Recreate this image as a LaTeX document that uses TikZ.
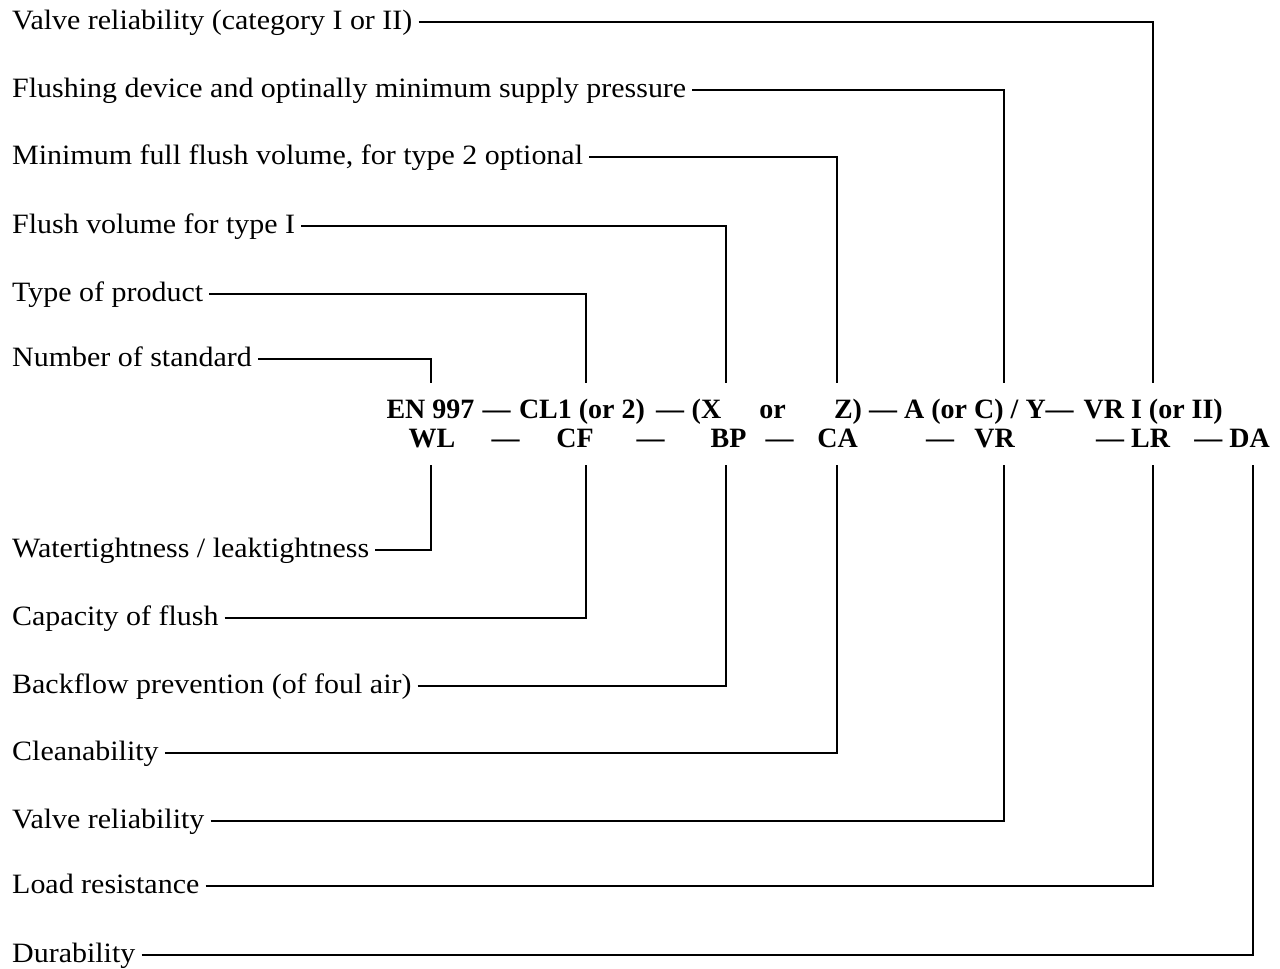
\documentclass[tikz,border=0pt]{standalone}
\usepackage{fontspec}
\setmainfont{Liberation Serif}
\newfontfamily\lblfam[FakeStretch=1.07]{Liberation Serif}
\newfontfamily\codefam{Liberation Serif}
\newcommand{\lblfont}{\lblfam\fontsize{28}{30}\selectfont}
\newcommand{\codefont}{\codefam\bfseries\fontsize{28}{30}\selectfont}
\begin{document}
\begin{tikzpicture}[x=1pt,y=-1pt,
  lbl/.style={anchor=base west, inner xsep=6pt, inner ysep=0pt, text height=20pt, text depth=6pt, font=\lblfont},
  code/.style={anchor=base, inner sep=0pt, font=\codefont},
  conn/.style={draw=black, line width=1.6pt}]
\useasboundingbox (0,0) rectangle (1280,969);

% top labels
\node[lbl] (a1) at (6,29)  {Valve reliability (category I or II)};
\node[lbl] (a2) at (6,97)  {Flushing device and optinally minimum supply pressure};
\node[lbl] (a3) at (6,164) {Minimum full flush volume, for type 2 optional};
\node[lbl] (a4) at (6,233) {Flush volume for type I};
\node[lbl] (a5) at (6,301) {Type of product};
\node[lbl] (a6) at (6,366) {Number of standard};

% bottom labels
\node[lbl] (b1) at (6,557) {Watertightness / leaktightness};
\node[lbl] (b2) at (6,625) {Capacity of flush};
\node[lbl] (b3) at (6,693) {Backflow prevention (of foul air)};
\node[lbl] (b4) at (6,760) {Cleanability};
\node[lbl] (b5) at (6,828) {Valve reliability};
\node[lbl] (b6) at (6,893) {Load resistance};
\node[lbl] (b7) at (6,962) {Durability};

% code row 1
\node[code] (en)  at (430.5,418) {EN 997};
\node[code] (d1)  at (496.5,418) {—};
\node[code] (cl)  at (582,418)   {CL1 (or 2)};
\node[code] (d2)  at (670,418)   {—};
\node[code] (x)   at (706.5,418) {(X};
\node[code] (or)  at (772.5,418) {or};
\node[code] (z)   at (848,418)   {Z)};
\node[code, anchor=base west] (ay) at (869,418) {— A (or C) / Y—};
\node[code, anchor=base east] (vri) at (1223,418) {VR I (or II)};

% code row 2
\node[code] (wl)  at (432,447)   {WL};
\node[code] (e1)  at (505.5,447) {—};
\node[code] (cf)  at (575,447)   {CF};
\node[code] (e2)  at (650.5,447) {—};
\node[code] (bp)  at (728.5,447) {BP};
\node[code] (e3)  at (779.5,447) {—};
\node[code] (ca)  at (837.5,447) {CA};
\node[code] (e4)  at (940,447)   {—};
\node[code] (vr)  at (994.5,447) {VR};
\node[code, anchor=base west] (lr)  at (1096,447) {— LR};
\node[code, anchor=base east] (da)  at (1270,447)  {— DA};

% connector ends
\coordinate (t1) at (1153,383);
\coordinate (t2) at (1004,383);
\coordinate (t3) at (837,383);
\coordinate (t4) at (726,383);
\coordinate (t5) at (586,383);
\coordinate (t6) at (431,383);
\coordinate (u1) at (431,465);
\coordinate (u2) at (586,465);
\coordinate (u3) at (726,465);
\coordinate (u4) at (837,465);
\coordinate (u5) at (1004,465);
\coordinate (u6) at (1153,465);
\coordinate (u7) at (1253,465);

\draw[conn] (a1.east) -| (t1);
\draw[conn] (a2.east) -| (t2);
\draw[conn] (a3.east) -| (t3);
\draw[conn] (a4.east) -| (t4);
\draw[conn] (a5.east) -| (t5);
\draw[conn] (a6.east) -| (t6);
\draw[conn] (b1.east) -| (u1);
\draw[conn] (b2.east) -| (u2);
\draw[conn] (b3.east) -| (u3);
\draw[conn] (b4.east) -| (u4);
\draw[conn] (b5.east) -| (u5);
\draw[conn] (b6.east) -| (u6);
\draw[conn] (b7.east) -| (u7);
\end{tikzpicture}
\end{document}
